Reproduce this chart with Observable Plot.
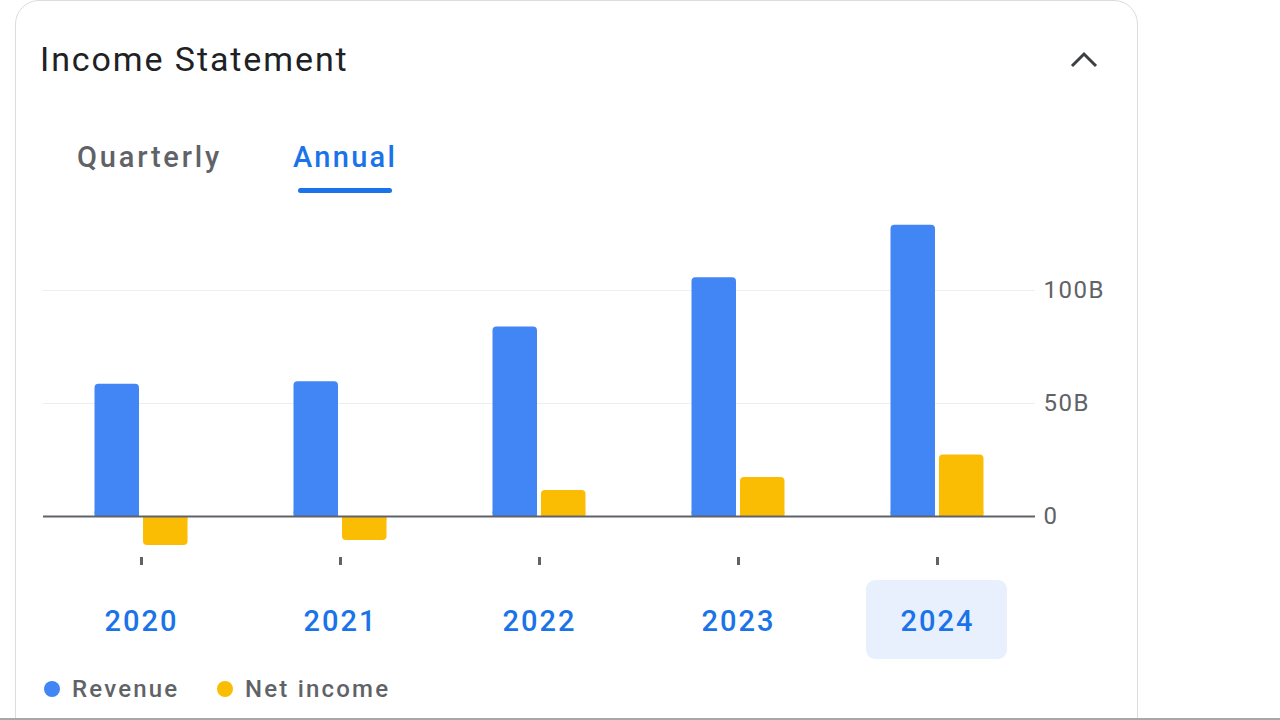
<!DOCTYPE html>
<html>
<head>
<meta charset="utf-8">
<script src="https://cdn.jsdelivr.net/npm/d3@7"></script>
<script src="https://cdn.jsdelivr.net/npm/@observablehq/plot@0.6"></script>
<style>
  html, body { margin: 0; padding: 0; background: #fff; width: 1280px; height: 720px; overflow: hidden; font-family: Roboto, "Noto Sans", sans-serif; }
  #card { position: absolute; left: 15px; top: 0; width: 1123px; height: 780px; border: 1px solid #dadce0; border-radius: 24px; box-sizing: border-box; background: #fff; }
  #title { position: absolute; left: 40px; top: 39px; font-size: 34px; line-height: 40px; color: #202124; font-weight: 400; letter-spacing: 1.9px; white-space: nowrap; }
  .tab { position: absolute; top: 137px; font-size: 29px; line-height: 40px; font-weight: 500; letter-spacing: 2.3px; white-space: nowrap; }
  #q { left: 77px; color: #5f6368; letter-spacing: 2.8px; }
  #a { left: 293px; color: #1a73e8; }
  #underline { position: absolute; left: 298px; top: 188px; width: 94px; height: 5px; background: #1a73e8; border-radius: 3px; }
  #chev { position: absolute; left: 1060px; top: 40px; }
  #sel { position: absolute; left: 866px; top: 580px; width: 141px; height: 79px; background: #e8f0fe; border-radius: 9px; }
  #chart { position: absolute; left: 0; top: 200px; }
  .leg { position: absolute; top: 674px; font-size: 24px; line-height: 30px; font-weight: 500; color: #5f6368; letter-spacing: 2.2px; white-space: nowrap; }
  .dot { position: absolute; top: 681px; width: 16px; height: 16px; border-radius: 50%; }
  #bottomline { position: absolute; left: 0; top: 718px; width: 1280px; height: 2px; background: #a8a8a8; }
  g[aria-label="x-axis tick label"] text { letter-spacing: 2px; }
  g[aria-label="y-axis tick label"] text { letter-spacing: 1.5px; }
</style>
</head>
<body>
<div id="card"></div>
<div id="title">Income Statement</div>
<div class="tab" id="q">Quarterly</div>
<div class="tab" id="a">Annual</div>
<div id="underline"></div>
<svg id="chev" width="50" height="40"><path d="M12,26 L24,14 L36,26" fill="none" stroke="#3c4043" stroke-width="3"/></svg>
<div id="sel"></div>
<div id="chart"></div>
<div class="dot" style="left:44px;background:#4285f4"></div>
<div class="leg" style="left:72px">Revenue</div>
<div class="dot" style="left:217px;background:#fbbc04"></div>
<div class="leg" style="left:245px">Net income</div>
<div id="bottomline"></div>
<script>
// Data (billions)
const years = ["2020", "2021", "2022", "2023", "2024"];
const revenue = [58.5, 59.6, 83.8, 105.6, 128.9];
const netIncome = [-12.8, -10.6, 11.5, 17.3, 27.2];
const yTicks = [0, 50, 100];

const rows = years.map((year, i) => ({year, revenue: revenue[i], netIncome: netIncome[i]}));
const base = v => Math.sign(v) * Math.min(Math.abs(v), 2);

const chart = Plot.plot({
  width: 1280,
  height: 460,
  marginLeft: 43,
  marginRight: 245,
  marginTop: 0,
  marginBottom: 103,
  style: {background: "transparent", fontFamily: "Roboto, sans-serif", overflow: "visible"},
  x: {type: "band", domain: years, paddingInner: 0.5327, paddingOuter: 0.2589, round: false, label: null},
  y: {domain: [-18.14, 139.82], label: null},
  marks: [
    Plot.gridY([50, 100], {stroke: "#eeeeee", strokeOpacity: 1}),
    Plot.barY(rows, {x: "year", y: "revenue", fill: "#4285f4", insetRight: 48.5, rx: 4}),
    Plot.barY(rows, {x: "year", y1: 0, y2: d => base(d.revenue), fill: "#4285f4", insetRight: 48.5}),
    Plot.barY(rows, {x: "year", y: "netIncome", fill: "#fbbc04", insetLeft: 48.5, rx: 4}),
    Plot.barY(rows, {x: "year", y1: 0, y2: d => base(d.netIncome), fill: "#fbbc04", insetLeft: 48.5}),
    Plot.ruleY([0], {stroke: "#5f6368", strokeWidth: 2}),
    Plot.axisY({anchor: "right", ticks: yTicks, tickSize: 0, tickPadding: 8,
      tickFormat: d => d === 0 ? "0" : `${d}B`, fontSize: 24, fill: "#5f6368", label: null}),
    Plot.axisX({tickSize: 8, tickFormat: () => "", stroke: "#5f6368", strokeWidth: 3, label: null}),
    Plot.axisX({tickSize: 0, tickPadding: 53, fill: "#1a73e8", fontSize: 29, fontWeight: 500, label: null})
  ]
});
document.getElementById("chart").appendChild(chart);
</script>
</body>
</html>
